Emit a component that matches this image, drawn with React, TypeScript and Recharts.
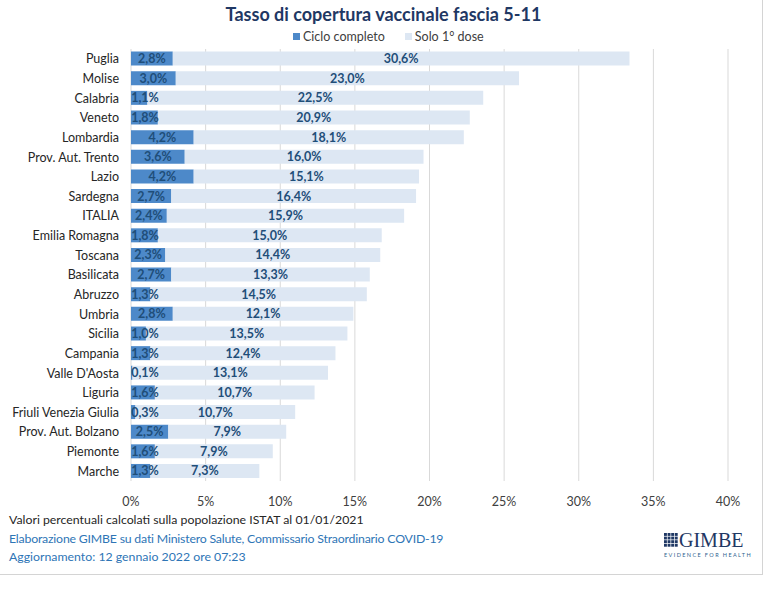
import React from 'react'
import { BarChart, Bar, XAxis, YAxis, CartesianGrid, LabelList } from 'recharts'

const regions = [
  'Puglia', 'Molise', 'Calabria', 'Veneto', 'Lombardia', 'Prov. Aut. Trento', 'Lazio',
  'Sardegna', 'ITALIA', 'Emilia Romagna', 'Toscana', 'Basilicata', 'Abruzzo', 'Umbria',
  'Sicilia', 'Campania', "Valle D'Aosta", 'Liguria', 'Friuli Venezia Giulia',
  'Prov. Aut. Bolzano', 'Piemonte', 'Marche',
]
const cicloCompleto = [2.8, 3.0, 1.1, 1.8, 4.2, 3.6, 4.2, 2.7, 2.4, 1.8, 2.3, 2.7, 1.3, 2.8, 1.0, 1.3, 0.1, 1.6, 0.3, 2.5, 1.6, 1.3]
const soloPrimaDose = [30.6, 23.0, 22.5, 20.9, 18.1, 16.0, 15.1, 16.4, 15.9, 15.0, 14.4, 13.3, 14.5, 12.1, 13.5, 12.4, 13.1, 10.7, 10.7, 7.9, 7.9, 7.3]
const xTicks = [0, 5, 10, 15, 20, 25, 30, 35, 40]

const data = regions.map((name, i) => ({ name, ciclo: cicloCompleto[i], solo: soloPrimaDose[i] }))

const DARK = '#4d89c9'
const LIGHT = '#dde7f3'
const LABEL = '#1f4e79'
const FONT = 'Lato, "Open Sans", sans-serif'

const fmt = (v: number) => v.toFixed(1).replace('.', ',') + '%'

const DarkLabel = (props: any) => {
  const { x, y, width, height, value } = props
  const cx = Math.max(x + width / 2, x + 14)
  return (
    <text x={cx} y={y + height / 2} dy={4.5} textAnchor="middle" fill={LABEL} fontSize={12.5} fontWeight={700} fontFamily={FONT}>
      {fmt(value)}
    </text>
  )
}

const LightLabel = (props: any) => {
  const { x, y, width, height, value } = props
  return (
    <text x={x + width / 2} y={y + height / 2} dy={4.5} textAnchor="middle" fill={LABEL} fontSize={12.5} fontWeight={700} fontFamily={FONT}>
      {fmt(value)}
    </text>
  )
}

// keep long region names on one line
const RegionTick = (props: any) => {
  const { x, y, payload } = props
  return (
    <text x={x} y={y} dy={4.5} textAnchor="end" fill="#262626" fontSize={12.5} fontFamily={FONT}>
      {payload.value}
    </text>
  )
}

export default function App() {
  return (
    <div style={{ position: 'absolute', left: 0, top: 0, width: 767, height: 596, background: '#fff', fontFamily: FONT }}>
      <div style={{ position: 'absolute', left: 0, top: 0, width: 762, height: 574, borderRight: '1px solid #d4d4d4', borderBottom: '1px solid #d4d4d4' }} />
      <div style={{ position: 'absolute', left: 0, top: 3, width: 767, textAlign: 'center', fontSize: 18, fontWeight: 700, color: '#1f3864' }}>
        Tasso di copertura vaccinale fascia 5-11
      </div>
      <div style={{ position: 'absolute', left: 293, top: 29, fontSize: 12.5, color: '#404040', display: 'flex', alignItems: 'center', whiteSpace: 'nowrap' }}>
        <span style={{ display: 'inline-block', width: 7, height: 7, background: DARK, marginRight: 3 }} />
        <span>Ciclo completo</span>
        <span style={{ display: 'inline-block', width: 7, height: 7, background: LIGHT, marginLeft: 20, marginRight: 3 }} />
        <span>Solo 1° dose</span>
      </div>

      <div style={{ position: 'absolute', left: 0, top: 0 }}>
        <BarChart width={767} height={515} data={data} layout="vertical" margin={{ top: 49, right: 39, bottom: 0, left: 0 }} barCategoryGap={2.6}>
          <CartesianGrid horizontal={false} stroke="#d9d9d9" />
          <XAxis
            type="number"
            domain={[0, 40]}
            ticks={xTicks}
            tickFormatter={(v: number) => v + '%'}
            axisLine={false}
            tickLine={false}
            tickMargin={10}
            height={34}
            tick={{ fill: '#404040', fontSize: 12.5, fontFamily: FONT }}
          />
          <YAxis
            type="category"
            dataKey="name"
            width={131}
            axisLine={false}
            tickLine={false}
            tickMargin={6}
            interval={0}
            tick={<RegionTick />}
          />
          <Bar dataKey="ciclo" stackId="a" fill={DARK} isAnimationActive={false}>
            <LabelList dataKey="ciclo" content={DarkLabel} />
          </Bar>
          <Bar dataKey="solo" stackId="a" fill={LIGHT} isAnimationActive={false}>
            <LabelList dataKey="solo" content={LightLabel} />
          </Bar>
        </BarChart>
      </div>

      <div style={{ position: 'absolute', left: 9, top: 512, fontSize: 12.3, color: '#262626', whiteSpace: 'nowrap' }}>
        Valori percentuali calcolati sulla popolazione ISTAT al 01/01/2021
      </div>
      <div style={{ position: 'absolute', left: 9, top: 531, fontSize: 12.3, color: '#2e75b6', whiteSpace: 'nowrap', letterSpacing: -0.2 }}>
        Elaborazione GIMBE su dati Ministero Salute, Commissario Straordinario COVID-19
      </div>
      <div style={{ position: 'absolute', left: 9, top: 549, fontSize: 12.3, color: '#2e75b6', whiteSpace: 'nowrap' }}>
        Aggiornamento: 12 gennaio 2022 ore 07:23
      </div>

      <svg style={{ position: 'absolute', left: 660, top: 528 }} width={100} height={32}>
        <g fill="#1f3864">
          {[0, 1, 2, 3].map((r) =>
            [0, 1, 2, 3].map((c) => (
              <rect key={r + '-' + c} x={4 + c * 3.6} y={5 + r * 3.6} width={2.9} height={2.9} />
            ))
          )}
        </g>
        <text x={19} y={18.5} fontFamily='"Liberation Serif", "DejaVu Serif", serif' fontSize={20} fill="#1f3864">GIMBE</text>
        <text x={4} y={28.5} fontFamily={FONT} fontSize={5.5} letterSpacing={1.4} fill="#2f5f8f">EVIDENCE FOR HEALTH</text>
      </svg>
    </div>
  )
}
